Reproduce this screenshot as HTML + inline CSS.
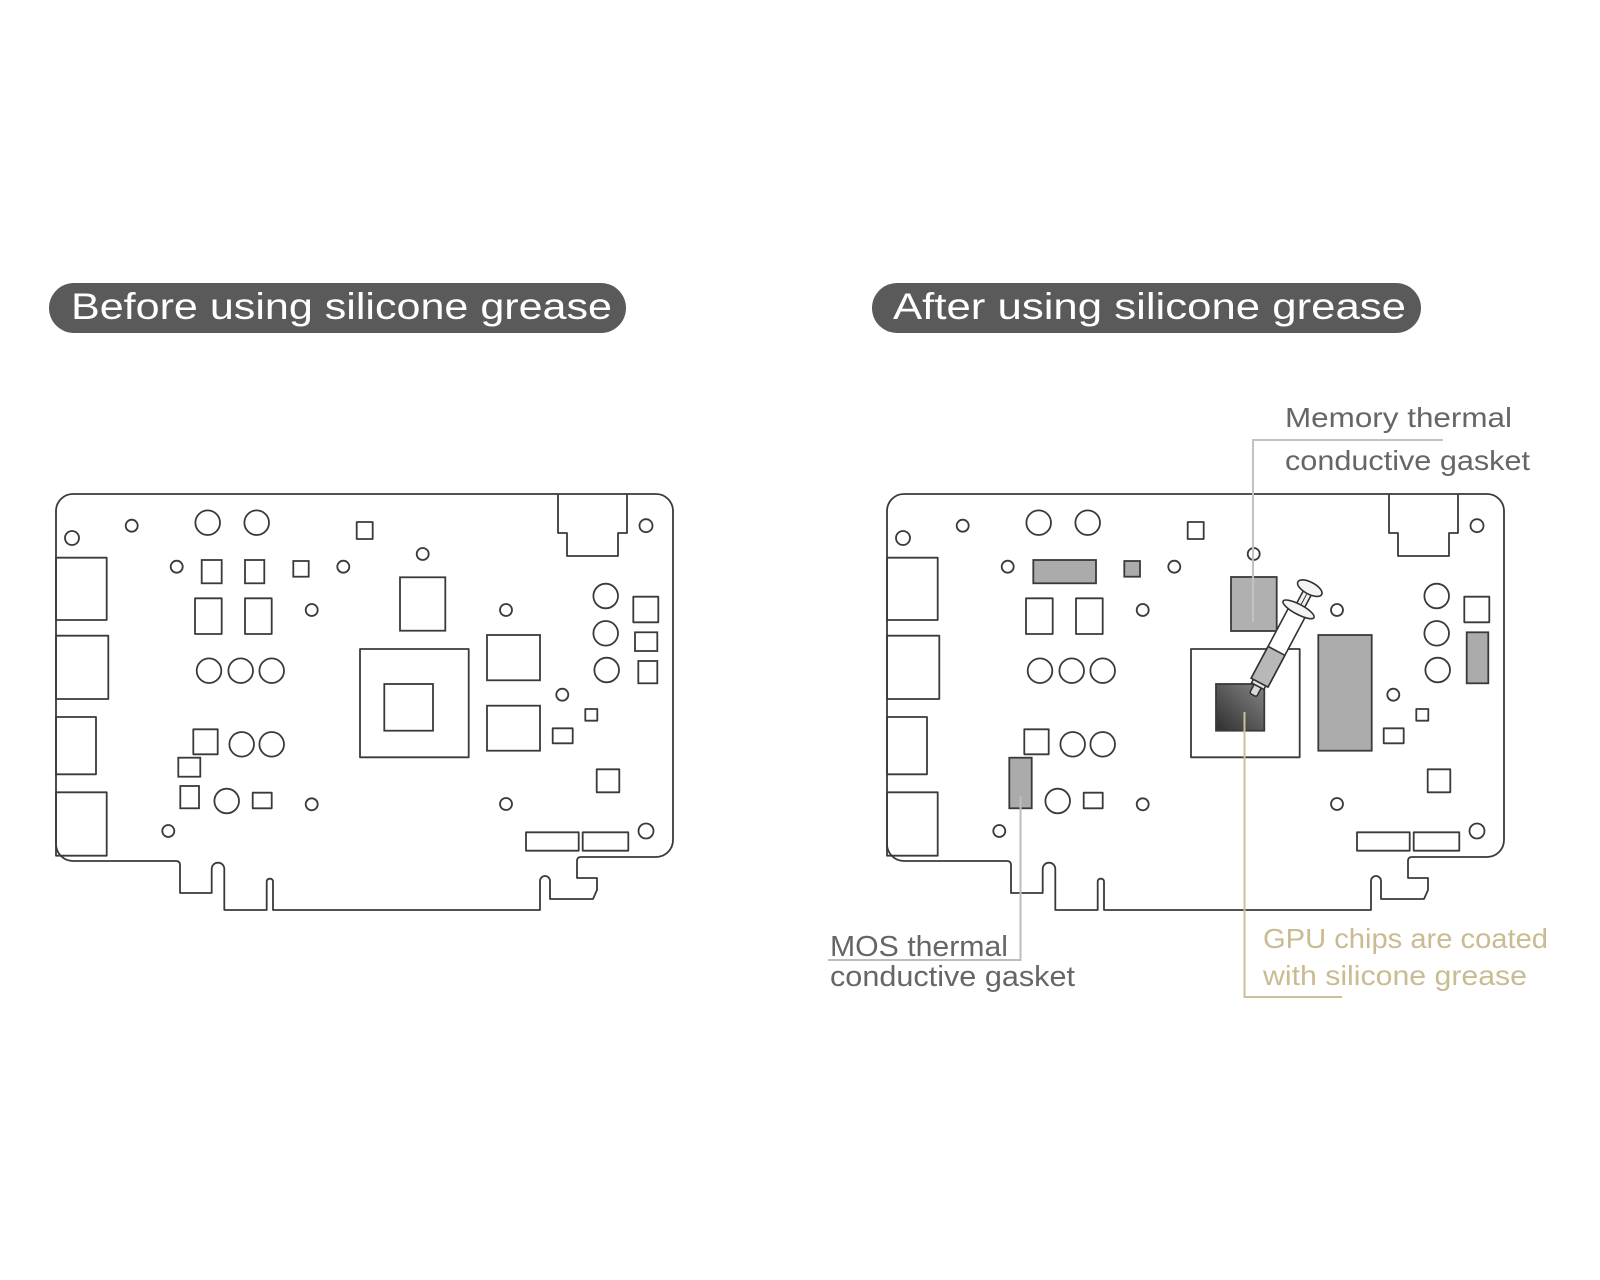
<!DOCTYPE html>
<html>
<head>
<meta charset="utf-8">
<style>
  html, body { margin: 0; padding: 0; background: #ffffff; }
  body { width: 1600px; height: 1280px; overflow: hidden; }
  svg { display: block; }
  text { font-family: "Liberation Sans", "DejaVu Sans", sans-serif; }
</style>
</head>
<body>
<svg width="1600" height="1280" viewBox="0 0 1600 1280" xmlns="http://www.w3.org/2000/svg">
  <defs>
    <linearGradient id="die" x1="0" y1="1" x2="1" y2="0">
      <stop offset="0" stop-color="#2f2f2f"/>
      <stop offset="1" stop-color="#858585"/>
    </linearGradient>
    <g id="common" fill="none" stroke="#3a3a3a" stroke-width="1.8" stroke-linejoin="round">
      <path d="M56,511 A17,17 0 0 1 73,494 H656 A17,17 0 0 1 673,511 V840 A17,17 0 0 1 656,857 H581 Q577,857 577,861 V878 H597 V890 L593,899 H550 V881 A5,5 0 0 0 540,881 V910 H273 V881 A3.3,3.3 0 0 0 266.7,881 V910 H224.3 V869 A6.3,6.3 0 0 0 211.7,869 V893 H180 V865 Q180,861 176,861 H73 A17,17 0 0 1 56,844 Z"/>
      <polyline points="558,494 558,533 567,533 567,556 618,556 618,533 627,533 627,494"/>
      <rect x="56" y="557.7" width="50.7" height="62.3"/>
      <rect x="56" y="635.7" width="52.3" height="63.3"/>
      <rect x="56" y="717" width="40" height="57.3"/>
      <rect x="56" y="792.3" width="50.7" height="63.4"/>
      <circle cx="131.7" cy="525.7" r="6"/>
      <circle cx="176.7" cy="566.7" r="6"/>
      <circle cx="343.3" cy="566.7" r="6"/>
      <circle cx="311.7" cy="610" r="6"/>
      <circle cx="311.7" cy="804.3" r="6"/>
      <circle cx="168.3" cy="831" r="6"/>
      <circle cx="422.7" cy="554" r="6"/>
      <circle cx="506" cy="610" r="6"/>
      <circle cx="562.3" cy="694.7" r="6"/>
      <circle cx="506" cy="804" r="6"/>
      <circle cx="72" cy="538" r="7"/>
      <circle cx="646" cy="525.7" r="6.5"/>
      <circle cx="646" cy="831" r="7.5"/>
      <circle cx="207.7" cy="522.7" r="12.3"/>
      <circle cx="256.7" cy="522.7" r="12.3"/>
      <circle cx="209" cy="670.7" r="12.3"/>
      <circle cx="240.7" cy="670.7" r="12.3"/>
      <circle cx="271.7" cy="670.7" r="12.3"/>
      <circle cx="241.7" cy="744.3" r="12.3"/>
      <circle cx="271.7" cy="744.3" r="12.3"/>
      <circle cx="226.7" cy="801" r="12.3"/>
      <circle cx="605.7" cy="596" r="12.3"/>
      <circle cx="605.7" cy="633.3" r="12.3"/>
      <circle cx="606.7" cy="670" r="12.3"/>
      <rect x="356.7" y="522" width="16" height="17"/>
      <rect x="195" y="598.3" width="26.7" height="35.7"/>
      <rect x="245" y="598.3" width="26.7" height="35.7"/>
      <rect x="193.3" y="729.3" width="24.4" height="25"/>
      <rect x="252.7" y="792.7" width="19" height="15.6"/>
      <rect x="360" y="649" width="108.7" height="108.3"/>
      <rect x="585.3" y="709" width="12" height="11.7"/>
      <rect x="552.7" y="728.3" width="20" height="15"/>
      <rect x="633.3" y="596.7" width="25" height="25.6"/>
      <rect x="596.7" y="769.3" width="22.6" height="23"/>
      <rect x="526" y="832.3" width="52.7" height="18.4"/>
      <rect x="582.7" y="832.3" width="45.6" height="18.4"/>
    </g>
  </defs>

  <!-- Title pills -->
  <rect x="49" y="283" width="577" height="50" rx="25" ry="25" fill="#5a5a5a"/>
  <text x="71" y="319" font-size="37" fill="#ffffff" textLength="541" lengthAdjust="spacingAndGlyphs">Before using silicone grease</text>

  <rect x="872" y="283" width="549" height="50" rx="25" ry="25" fill="#5a5a5a"/>
  <text x="893" y="319" font-size="37" fill="#ffffff" textLength="513" lengthAdjust="spacingAndGlyphs">After using silicone grease</text>

  <!-- LEFT BOARD -->
  <use href="#common"/>
  <g fill="none" stroke="#3a3a3a" stroke-width="1.8">
    <rect x="201.7" y="560" width="20" height="23.3"/>
    <rect x="245" y="560" width="19.3" height="23.3"/>
    <rect x="293.3" y="561" width="15.4" height="15.7"/>
    <rect x="178.3" y="757.7" width="22" height="19"/>
    <rect x="180.3" y="786" width="18.7" height="22.3"/>
    <rect x="400" y="577.3" width="45.3" height="53.4"/>
    <rect x="384.3" y="684" width="48.7" height="46.7"/>
    <rect x="487" y="635" width="53" height="45.3"/>
    <rect x="487" y="705.7" width="53" height="45"/>
    <rect x="635" y="632.3" width="22.3" height="18.7"/>
    <rect x="638.3" y="661" width="19" height="22.3"/>
  </g>

  <!-- RIGHT BOARD -->
  <g transform="translate(831,0)">
    <use href="#common"/>
    <g stroke="#3a3a3a" stroke-width="1.8">
      <rect x="202.3" y="560" width="62.7" height="23.3" fill="#ababab"/>
      <rect x="293.3" y="561" width="15.7" height="15.7" fill="#ababab"/>
      <rect x="178.3" y="757.7" width="22.4" height="50.6" fill="#ababab"/>
      <rect x="400" y="577" width="45.7" height="54" fill="#b0b0b0"/>
      <rect x="385" y="684" width="48.3" height="46.7" fill="url(#die)"/>
      <rect x="487.3" y="635" width="53.4" height="115.7" fill="#acacac"/>
      <rect x="635.7" y="632.3" width="21.6" height="51" fill="#ababab"/>
    </g>
  </g>

  <!-- Leaders -->
  <g fill="none" stroke-width="2">
    <polyline points="1443,440 1253,440 1253,622" stroke="#c2c2c2"/>
    <polyline points="828,960 1020.5,960 1020.5,796" stroke="#bdbdbd"/>
    <polyline points="1244.5,712 1244.5,997 1342,997" stroke="#cdbf98"/>
  </g>

  <!-- Syringe -->
  <g transform="translate(1253,695) rotate(28)" stroke="#333" stroke-width="1.6">
    <rect x="-4" y="-11" width="8" height="11" rx="2" fill="#d8d8d8"/>
    <rect x="-7" y="-15" width="14" height="5" fill="#e6e6e6"/>
    <rect x="-9.5" y="-95" width="19" height="81" fill="#ffffff"/>
    <rect x="-9.5" y="-50" width="19" height="36" fill="#b8b8b8"/>
    <rect x="-4.5" y="-118" width="9" height="22" fill="#f0f0f0"/>
    <line x1="0" y1="-117" x2="0" y2="-98" stroke-width="1"/>
    <ellipse cx="0" cy="-97" rx="17.5" ry="5" fill="#f4f4f4"/>
    <ellipse cx="0" cy="-121" rx="13.5" ry="6" fill="#f4f4f4"/>
  </g>

  <!-- Labels -->
  <text x="1285" y="427" font-size="28" fill="#666666" textLength="227" lengthAdjust="spacingAndGlyphs">Memory thermal</text>
  <text x="1285" y="470" font-size="28" fill="#666666" textLength="245" lengthAdjust="spacingAndGlyphs">conductive gasket</text>

  <text x="830" y="956" font-size="29" fill="#666666" textLength="178" lengthAdjust="spacingAndGlyphs">MOS thermal</text>
  <text x="830" y="986" font-size="29" fill="#666666" textLength="245" lengthAdjust="spacingAndGlyphs">conductive gasket</text>

  <text x="1263" y="948" font-size="28" fill="#c9bb92" textLength="285" lengthAdjust="spacingAndGlyphs">GPU chips are coated</text>
  <text x="1263" y="985" font-size="28" fill="#c9bb92" textLength="264" lengthAdjust="spacingAndGlyphs">with silicone grease</text>
</svg>
</body>
</html>
